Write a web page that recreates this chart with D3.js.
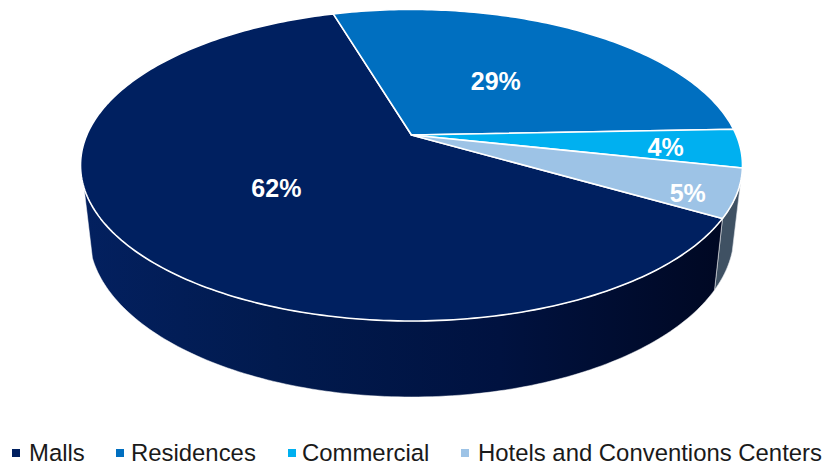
<!DOCTYPE html>
<html>
<head>
<meta charset="utf-8">
<script src="https://cdn.jsdelivr.net/npm/d3@7/dist/d3.min.js"></script>
<style>
  html, body { margin: 0; padding: 0; background: #fff; }
  svg { display: block; }
  text { font-family: "Liberation Sans", Arial, sans-serif; }
</style>
</head>
<body>
<svg id="chart" width="824" height="466"></svg>
<script>
// Revenue share by segment
const categories = ["Malls", "Residences", "Commercial", "Hotels and Conventions Centers"];
const shares = [62, 29, 4, 5];
const shareLabels = ["62%", "29%", "4%", "5%"];
const sliceColors = ["#002060", "#006FC0", "#00B0F0", "#9DC3E6"];

// Label placement, as a fraction of the disk radius, per slice
const labelRadius = [0.51, 0.48, 0.775, 0.87];
const labelAngleShift = [-2, 0, 0.6, 3.4];
const legendMarkerX = [12, 116, 288, 461];
const legendTextX = [29, 131, 302, 478];

const deg = Math.PI / 180;
const svg = d3.select("#chart");
const color = d3.scaleOrdinal(categories, sliceColors);

// Perspective projection of a unit disk: far edge shrinks, near edge grows.
function projector(cx, cy, ax, ay, k) {
  return (r, a) => {
    const u = r * Math.sin(a), v = r * Math.cos(a), w = 1 + k * v;
    return [cx + ax * u / w, cy - ay * v / w];
  };
}
const perspective = 0.194;
const topFace = projector(411.5, 135, 324.7, 149.9, perspective);
const lowFace = projector(411.5, 202.7, 316.4, 156.6, perspective);

const firstSliceAngle = 120.2;
const pie = d3.pie().sort(null).value(d => d)
  .startAngle(firstSliceAngle * deg).endAngle((firstSliceAngle + 360) * deg);
const slices = pie(shares);
const path = d3.line();

const arcPoints = (face, a0, a1) => {
  const n = Math.max(2, Math.ceil(Math.abs(a1 - a0) / deg));
  return d3.range(n + 1).map(i => face(1, a0 + (a1 - a0) * i / n));
};

// Side wall shading
const defs = svg.append("defs");
const wallGrad = defs.append("linearGradient")
  .attr("id", "wallShade").attr("gradientUnits", "userSpaceOnUse")
  .attr("x1", 85).attr("x2", 722).attr("y1", 0).attr("y2", 0);
[[0, "#03205f"], [0.3, "#011a4e"], [0.65, "#001240"], [1, "#000823"]].forEach(([o, c]) =>
  wallGrad.append("stop").attr("offset", o).attr("stop-color", c));

// Walls: the malls section faces the viewer, the hotels section turns away to the right
const malls = slices[0];
const leftEdge = 250.7 * deg, rightEdge = 107 * deg;
const wall = (a0, a1) => path(arcPoints(topFace, a0, a1).concat(arcPoints(lowFace, a1, a0))) + "Z";

svg.append("path")
  .attr("d", wall(rightEdge, malls.startAngle))
  .attr("fill", "#3F5163")
  .attr("stroke", "#e4e8ec").attr("stroke-width", 0.6);

svg.append("path")
  .attr("d", wall(malls.startAngle, leftEdge))
  .attr("fill", "url(#wallShade)")
  .attr("stroke", "#ffffff").attr("stroke-width", 0.5);

// Top face
svg.append("g").selectAll("path")
  .data(slices)
  .join("path")
  .attr("d", d => path([topFace(0, 0)].concat(arcPoints(topFace, d.startAngle, d.endAngle))) + "Z")
  .attr("fill", (d, i) => color(categories[i]))
  .attr("stroke", "#ffffff")
  .attr("stroke-width", 1.6)
  .attr("stroke-linejoin", "round");

// Percentage labels
svg.append("g").selectAll("text")
  .data(slices)
  .join("text")
  .each(function (d, i) {
    const mid = (d.startAngle + d.endAngle) / 2 + labelAngleShift[i] * deg;
    const [x, y] = topFace(labelRadius[i], mid);
    d3.select(this).attr("x", x).attr("y", y);
  })
  .attr("text-anchor", "middle")
  .attr("dominant-baseline", "central")
  .attr("fill", "#ffffff")
  .attr("font-size", 25)
  .attr("font-weight", "bold")
  .text((d, i) => shareLabels[i]);

// Legend
const legend = svg.append("g");
legend.selectAll("rect")
  .data(categories)
  .join("rect")
  .attr("x", (d, i) => legendMarkerX[i])
  .attr("y", 449)
  .attr("width", 8)
  .attr("height", 8)
  .attr("fill", d => color(d));
legend.selectAll("text")
  .data(categories)
  .join("text")
  .attr("x", (d, i) => legendTextX[i])
  .attr("y", 461)
  .attr("font-size", 23.9)
  .attr("fill", "#1a1a1a")
  .text(d => d);
</script>
</body>
</html>
